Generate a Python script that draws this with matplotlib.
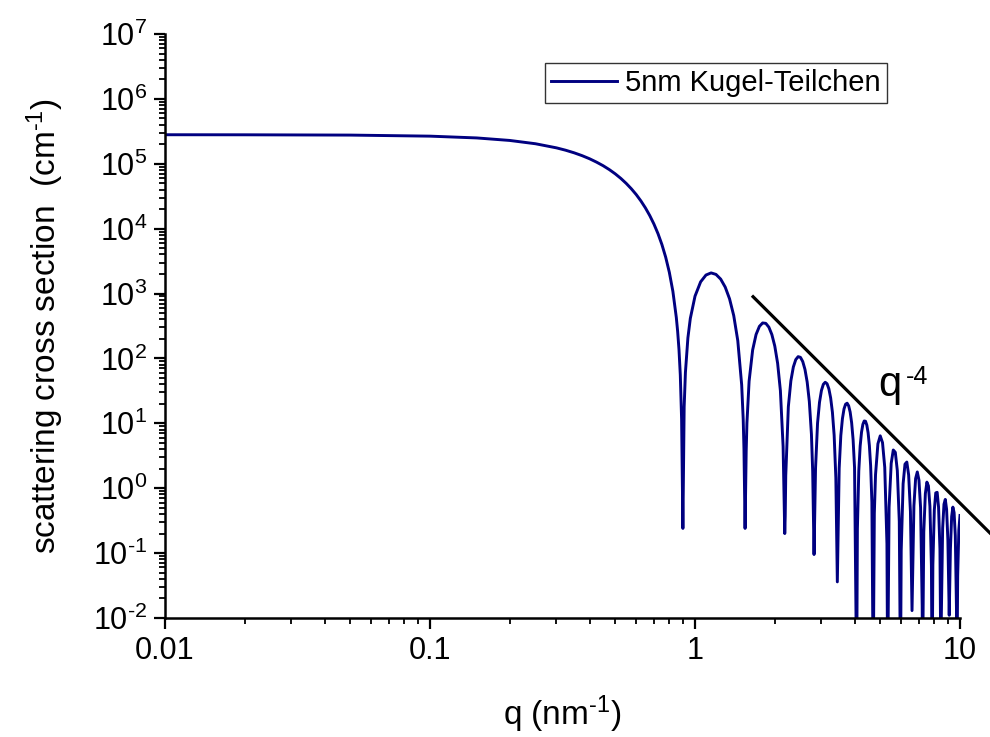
import numpy as np
import matplotlib
matplotlib.use("Agg")
import matplotlib.pyplot as plt
from matplotlib.ticker import LogLocator, NullFormatter

plt.rcParams['font.family'] = ['Liberation Sans', 'DejaVu Sans']
plt.rcParams['mathtext.fontset'] = 'custom'
plt.rcParams['mathtext.rm'] = 'Liberation Sans'
plt.rcParams['mathtext.it'] = 'Liberation Sans:italic'
plt.rcParams['axes.unicode_minus'] = False

# scattering curve (q in nm^-1, intensity in cm^-1)
q_nm = [0.01, 0.02, 0.05, 0.1, 0.15, 0.2, 0.25, 0.3, 0.325, 0.35, 0.375, 0.4, 0.425,
        0.45, 0.475, 0.5, 0.525, 0.55, 0.575, 0.6, 0.625, 0.65, 0.675, 0.7, 0.725,
        0.75, 0.775, 0.8, 0.825, 0.85, 0.86, 0.87, 0.88, 0.89, 0.90, 0.91, 0.92, 0.94, 0.96,
        1.0, 1.05, 1.1, 1.15, 1.2, 1.25, 1.3, 1.35, 1.4, 1.45, 1.5, 1.52, 1.53, 1.545,
        1.56, 1.57, 1.6, 1.65, 1.7, 1.75, 1.8, 1.85, 1.9, 1.95, 2.0, 2.05, 2.1, 2.15,
        2.17, 2.181, 2.19, 2.2, 2.25, 2.3, 2.35, 2.4, 2.45, 2.5, 2.55, 2.6, 2.65, 2.7,
        2.75, 2.78, 2.813, 2.85, 2.9, 2.95, 3.0, 3.05, 3.1, 3.15, 3.2, 3.25, 3.3, 3.35,
        3.4, 3.444, 3.5, 3.55, 3.6, 3.65, 3.7, 3.75, 3.8, 3.85, 3.9, 3.95, 4.0, 4.074,
        4.1, 4.15, 4.2, 4.25, 4.3, 4.35, 4.4, 4.45, 4.5, 4.55, 4.6, 4.65, 4.704, 4.75,
        4.8, 4.9, 5.0, 5.1, 5.2, 5.3, 5.333, 5.4, 5.5, 5.6, 5.7, 5.8, 5.9, 5.962, 6.0,
        6.1, 6.2, 6.3, 6.4, 6.5, 6.591, 6.7, 6.8, 6.9, 7.0, 7.1, 7.2, 7.22, 7.3, 7.4,
        7.5, 7.6, 7.7, 7.8, 7.849, 7.9, 8.0, 8.1, 8.2, 8.3, 8.4, 8.477, 8.5, 8.6, 8.7,
        8.8, 8.9, 9.0, 9.106, 9.2, 9.3, 9.4, 9.5, 9.6, 9.7, 9.735, 9.8, 9.9, 10.0]
intensity = [2.80e5, 2.794e5, 2.765e5, 2.663e5, 2.500e5, 2.286e5, 2.034e5, 1.758e5, 1.616e5,
             1.473e5, 1.332e5, 1.194e5, 1.059e5, 9.33e4, 8.12e4, 6.99e4, 5.94e4, 4.98e4,
             4.115e4, 3.35e4, 2.67e4, 2.085e4, 1.588e4, 1.174e4, 8367, 5690, 3633,
             2123, 1082, 428, 260, 137, 55.7, 11.5, 0.24, 17.9, 60.7, 207, 413,
             911, 1514, 1929, 2079, 1971, 1667, 1257, 829, 457, 188, 39.1, 11.6, 4.08, 0.24,
             3.73, 10.1, 44.6, 135, 234, 312, 352, 347, 303, 233, 155, 84.1, 31.8, 4.39,
             0.53, 0.20, 0.37, 1.56, 17.96, 45.1, 73.8, 95.9, 106.5, 103.9, 89.5, 67.6, 43.3, 21.7,
             6.77, 1.83, 0.095, 2.03, 10.05, 21.1, 32.1, 39.9, 42.9, 40.7, 33.95, 24.6, 14.8, 6.56,
             1.44, 0.036, 2.03, 6.48, 11.8, 16.65, 19.7, 20.4, 18.6, 14.9, 10.2, 5.60, 2.07, 0.001,
             0.2345, 1.85, 4.47, 7.31, 9.63, 10.86, 10.75, 9.38, 7.13, 4.54, 2.22, 0.61, 0.001, 0.409,
             1.62, 4.83, 6.41, 5.04, 2.10, 0.139, 0.001, 0.509, 2.415, 3.88, 3.57, 1.87, 0.308, 0.001, 0.109,
             1.17, 2.35, 2.53, 1.60, 0.439, 0.013, 0.535, 1.41, 1.78, 1.33, 0.50, 0.0151, 0.001, 0.213, 0.824,
             1.24, 1.084, 0.526, 0.0637, 0.001, 0.0661, 0.463, 0.847, 0.863, 0.511, 0.116, 0.001, 0.0098, 0.243, 0.566,
             0.672, 0.473, 0.158, 0.011, 0.115, 0.366, 0.511, 0.421, 0.185, 0.013, 0.001, 0.0448, 0.227, 0.380]

# q^-4 guide line
q_guide = [1.64, 13.1]
i_guide = [930, 0.196]

x_ticks = [0.01, 0.1, 1, 10]
x_ticklabels = ['0.01', '0.1', '1', '10']
y_exponents = [-2, -1, 0, 1, 2, 3, 4, 5, 6, 7]

fig = plt.figure(figsize=(9.9, 7.37), dpi=100)
ax = fig.add_axes([0.1667, 0.1615, 0.8030, 0.7924])

ax.plot(q_nm, intensity, color='#000080', lw=2.1, label='5nm Kugel-Teilchen')
ax.plot(q_guide, i_guide, color='black', lw=2.3, clip_on=False, solid_capstyle='butt')

ax.set_xscale('log')
ax.set_yscale('log')
ax.set_xlim(0.01, 10)
ax.set_ylim(1e-2, 1e7)

ax.set_xticks(x_ticks)
ax.set_xticklabels(x_ticklabels)
ax.xaxis.set_minor_locator(LogLocator(base=10, subs=np.arange(2, 10), numticks=20))
ax.xaxis.set_minor_formatter(NullFormatter())
ax.set_yticks([10.0 ** e for e in y_exponents])
ax.set_yticklabels(['10$^{\\text{%d}}$' % e for e in y_exponents])
ax.yaxis.set_minor_locator(LogLocator(base=10, subs=np.arange(2, 10), numticks=20))
ax.yaxis.set_minor_formatter(NullFormatter())

for s in ['top', 'right']:
    ax.spines[s].set_visible(False)
for s in ['left', 'bottom']:
    ax.spines[s].set_linewidth(1.8)

ax.tick_params(which='major', direction='out', length=8, width=1.6, labelsize=22, pad=5)
ax.tick_params(which='minor', direction='out', length=4, width=1.3)

ax.set_xlabel('q (nm$^{\\text{-1}}$)', fontsize=24, labelpad=20)
ax.set_ylabel('scattering cross section  (cm$^{\\text{-1}}$)', fontsize=24, labelpad=19)

ax.text(4.92, 26, 'q', fontsize=30, va='baseline', ha='left')
ax.text(6.25, 41, '-4', fontsize=18, va='baseline', ha='left')

leg = ax.legend(loc='upper right', bbox_to_anchor=(0.908, 0.95), fontsize=21,
                frameon=True, fancybox=False, borderpad=0.2, handlelength=2.25,
                handletextpad=0.3, borderaxespad=0)
leg.get_frame().set_edgecolor('black')
leg.get_frame().set_linewidth(1.0)

fig.savefig('out.png', dpi=100)
